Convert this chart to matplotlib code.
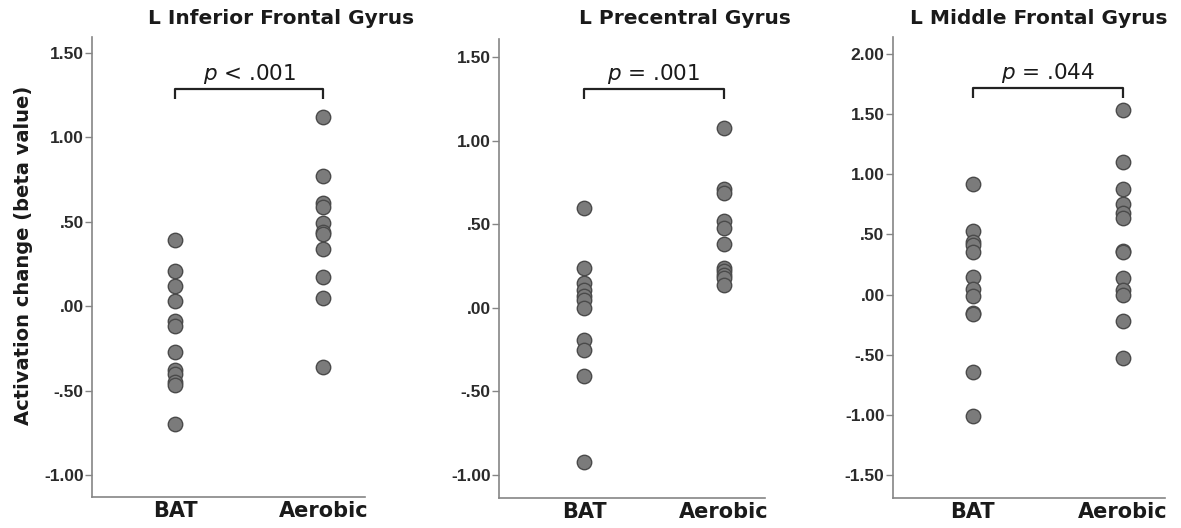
"""Three-panel dot plot: activation change by group (BAT vs Aerobic)."""

import matplotlib
matplotlib.use("Agg")
import matplotlib.pyplot as plt
from matplotlib.ticker import FuncFormatter

groups = ["BAT", "Aerobic"]

titles = ["L Inferior Frontal Gyrus", "L Precentral Gyrus", "L Middle Frontal Gyrus"]
p_labels = ["< .001", "= .001", "= .044"]

# L Inferior Frontal Gyrus
ifg_bat = [0.39, 0.21, 0.12, 0.03, -0.09, -0.12, -0.27, -0.38, -0.40, -0.45, -0.47, -0.70]
ifg_aer = [1.12, 0.77, 0.61, 0.59, 0.49, 0.44, 0.43, 0.34, 0.17, 0.05, -0.36]

# L Precentral Gyrus
pcg_bat = [0.60, 0.24, 0.15, 0.11, 0.07, 0.05, 0.00, -0.19, -0.25, -0.41, -0.92]
pcg_aer = [1.08, 0.71, 0.69, 0.52, 0.48, 0.38, 0.24, 0.22, 0.20, 0.18, 0.14]

# L Middle Frontal Gyrus
mfg_bat = [0.92, 0.53, 0.44, 0.41, 0.35, 0.15, 0.05, -0.01, -0.15, -0.16, -0.64, -1.01]
mfg_aer = [1.53, 1.10, 0.88, 0.75, 0.68, 0.64, 0.36, 0.35, 0.14, 0.04, 0.00, -0.22, -0.53]

yticks = [
    [-1.0, -0.5, 0.0, 0.5, 1.0, 1.5],
    [-1.0, -0.5, 0.0, 0.5, 1.0, 1.5],
    [-1.5, -1.0, -0.5, 0.0, 0.5, 1.0, 1.5, 2.0],
]
ylims = [(-1.131, 1.595), (-1.138, 1.61), (-1.69, 2.14)]
xlims = [(-0.56, 1.28), (-0.607, 1.293), (-0.533, 1.28)]
bracket_y = [1.286, 1.31, 1.717]
bracket_drop = [0.06, 0.06, 0.085]

panels = [(ifg_bat, ifg_aer), (pcg_bat, pcg_aer), (mfg_bat, mfg_aer)]
axes_pos = [
    [0.0779, 0.0587, 0.2312, 0.8713],
    [0.4225, 0.0568, 0.2253, 0.8693],
    [0.7561, 0.0568, 0.2303, 0.8731],
]
# title centres in figure pixels (titles are not centred on the axes)
title_x = [281, 685, 1039]

SPINE = "#858585"
DOT = "#7b7b7b"
DOT_EDGE = "#4a4a4a"
TXT = "#1a1a1a"
W, H = 1181, 528


def spss_fmt(v, _pos):
    s = f"{v:.2f}"
    if s.startswith("0."):
        s = s[1:]
    elif s.startswith("-0."):
        s = "-" + s[2:]
    return s


fig = plt.figure(figsize=(W / 100, H / 100), dpi=100, facecolor="white")

for i, (bat, aer) in enumerate(panels):
    ax = fig.add_axes(axes_pos[i])
    ax.scatter([0] * len(bat), bat, s=108, color=DOT, edgecolor=DOT_EDGE,
               linewidth=1.0, zorder=3)
    ax.scatter([1] * len(aer), aer, s=108, color=DOT, edgecolor=DOT_EDGE,
               linewidth=1.0, zorder=3)

    ax.set_xlim(*xlims[i])
    ax.set_ylim(*ylims[i])
    ax.set_yticks(yticks[i])
    ax.yaxis.set_major_formatter(FuncFormatter(spss_fmt))
    ax.set_xticks([0, 1])
    ax.set_xticklabels(groups, fontsize=15, fontweight="bold",
                       family="DejaVu Sans", color=TXT)
    ax.tick_params(axis="x", length=0, pad=3)
    ax.tick_params(axis="y", length=5, width=1, color=SPINE, pad=1,
                   labelsize=12.5, labelcolor="#2a2a2a")
    for lab in ax.get_yticklabels():
        lab.set_family("Liberation Sans")
        lab.set_fontweight("bold")

    for side in ("top", "right"):
        ax.spines[side].set_visible(False)
    for side in ("left", "bottom"):
        ax.spines[side].set_color(SPINE)
        ax.spines[side].set_linewidth(1.2)

    # significance bracket
    by = bracket_y[i]
    dy = bracket_drop[i]
    ax.plot([0, 0, 1, 1], [by - dy, by, by, by - dy], color="#222222",
            linewidth=1.6, solid_capstyle="butt", zorder=4)
    ax.annotate(r"$\it{p}$ " + p_labels[i], xy=(0.5, by), xycoords="data",
                xytext=(0, 6.5), textcoords="offset points",
                ha="center", va="baseline", fontsize=15.5, color=TXT,
                family="DejaVu Sans")

    fig.text(title_x[i] / W, 1 - 19 / H, titles[i], fontsize=14.5,
             fontweight="bold", color=TXT, family="DejaVu Sans",
             ha="center", va="center")

    if i == 0:
        ax.set_ylabel("Activation change (beta value)", fontsize=14,
                      fontweight="bold", color=TXT, family="DejaVu Sans")
        ax.yaxis.set_label_coords(-0.215, 0.526)

fig.savefig("out.png", dpi=100, facecolor="white")
